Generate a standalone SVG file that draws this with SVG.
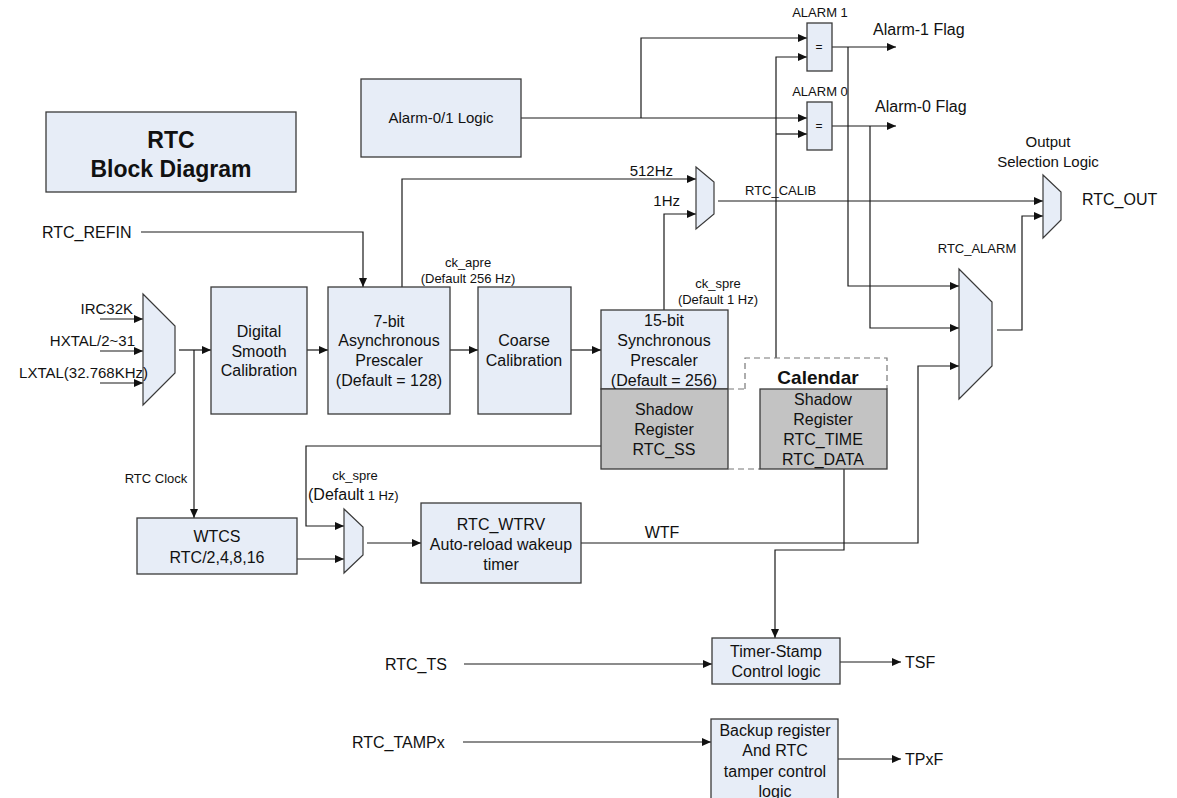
<svg xmlns="http://www.w3.org/2000/svg" width="1177" height="798" viewBox="0 0 1177 798">
<style>
text{font-family:"Liberation Sans",Arial,sans-serif;fill:#111;}
.box{fill:#e7edf7;stroke:#3a3a3a;stroke-width:1.3;}
.gray{fill:#c3c3c3;stroke:#3a3a3a;stroke-width:1.3;}
.mux{fill:#e7edf7;stroke:#3a3a3a;stroke-width:1.2;}
.w{fill:none;stroke:#1a1a1a;stroke-width:1.2;}
.wa{fill:none;stroke:#1a1a1a;stroke-width:1.2;marker-end:url(#ah);}
.dash{fill:none;stroke:#777;stroke-width:1.2;stroke-dasharray:6,4;}
.c{text-anchor:middle;}
.r{text-anchor:end;}
.f16{font-size:16px;}
.f15{font-size:15px;}
.f13{font-size:13px;}
</style>
<defs>
<marker id="ah" markerUnits="userSpaceOnUse" markerWidth="10" markerHeight="8" refX="9" refY="4" orient="auto">
<path d="M0,0 L9,4 L0,8 z" fill="#111"/>
</marker>
</defs>
<rect width="1177" height="798" fill="#fff"/>

<g id="connectors">
<path class="wa" d="M521,118 H807"/>
<path class="wa" d="M641,118 V38 H807"/>
<path class="wa" d="M776,358 V57 H807"/>
<path class="wa" d="M776,134 H807"/>
<path class="wa" d="M832,47 H896"/>
<path class="wa" d="M848,47 V286 H959"/>
<path class="wa" d="M832,126 H896"/>
<path class="wa" d="M870,126 V328 H959"/>
<path class="wa" d="M141,232 H363 V287"/>
<path class="wa" d="M100,319 H143"/>
<path class="wa" d="M100,351 H143"/>
<path class="wa" d="M100,383 H143"/>
<path class="wa" d="M179,350 H211"/>
<path class="wa" d="M194,350 V518"/>
<path class="wa" d="M307,350 H328"/>
<path class="wa" d="M450,350 H478"/>
<path class="wa" d="M571,350 H601"/>
<path class="wa" d="M402,287 V179 H696"/>
<path class="wa" d="M664,310 V214 H696"/>
<path class="wa" d="M718,201 H1043"/>
<path class="wa" d="M997,330 H1022 V216 H1043"/>
<path class="wa" d="M601,446 H306 V526 H344"/>
<path class="wa" d="M297,559 H344"/>
<path class="wa" d="M367,543 H421"/>
<path class="wa" d="M581,543 H918 V366 H959"/>
<path class="wa" d="M844,469 V550 H775 V638"/>
<path class="wa" d="M464,664 H712"/>
<path class="wa" d="M840,662 H901"/>
<path class="wa" d="M463,742 H711"/>
<path class="wa" d="M838,759 H901"/>
</g>

<g id="title">
<rect class="box" x="46" y="112" width="250" height="80"/>
<text class="c" x="171" y="148" font-size="23" font-weight="bold">RTC</text>
<text class="c" x="171" y="177" font-size="23" font-weight="bold">Block Diagram</text>
</g>

<g id="alarm-logic">
<rect class="box" x="361" y="79" width="160" height="78"/>
<text class="c f15" x="441" y="123">Alarm-0/1 Logic</text>
</g>

<g id="alarm1">
<rect class="box" x="807" y="23" width="25" height="48"/>
<text class="c" x="819" y="51" font-size="12">=</text>
<text class="c f13" x="820" y="17">ALARM 1</text>
<text class="f16" x="873" y="35">Alarm-1 Flag</text>
</g>

<g id="alarm0">
<rect class="box" x="807" y="102" width="25" height="48"/>
<text class="c" x="819" y="130" font-size="12">=</text>
<text class="c f13" x="820" y="96">ALARM 0</text>
<text class="f16" x="875" y="112">Alarm-0 Flag</text>
</g>

<g id="refin">
<text class="f16" x="42" y="238">RTC_REFIN</text>
</g>

<g id="input-mux">
<polygon class="mux" points="143,294 175,326 175,373 143,405"/>
<text class="r f15" x="133" y="314">IRC32K</text>
<text class="r f15" x="135" y="346">HXTAL/2~31</text>
<text class="r f15" x="148" y="378">LXTAL(32.768KHz)</text>
</g>

<g id="digital-smooth">
<rect class="box" x="211" y="287" width="96" height="127"/>
<text class="c f16" x="259" y="337">Digital</text>
<text class="c f16" x="259" y="357">Smooth</text>
<text class="c f16" x="259" y="376">Calibration</text>
</g>

<g id="async-prescaler">
<rect class="box" x="328" y="287" width="122" height="127"/>
<text class="c f16" x="389" y="327">7-bit</text>
<text class="c f16" x="389" y="346">Asynchronous</text>
<text class="c f16" x="389" y="366">Prescaler</text>
<text class="c f16" x="389" y="386">(Default = 128)</text>
<text class="c f13" x="468" y="267">ck_apre</text>
<text class="c f13" x="468" y="283">(Default 256 Hz)</text>
</g>

<g id="coarse">
<rect class="box" x="478" y="287" width="93" height="127"/>
<text class="c f16" x="524" y="346">Coarse</text>
<text class="c f16" x="524" y="366">Calibration</text>
</g>

<g id="sync-prescaler">
<rect class="box" x="601" y="310" width="127" height="79"/>
<rect class="gray" x="601" y="389" width="127" height="80"/>
<text class="c f16" x="664" y="326">15-bit</text>
<text class="c f16" x="664" y="346">Synchronous</text>
<text class="c f16" x="664" y="366">Prescaler</text>
<text class="c f16" x="664" y="386">(Default = 256)</text>
<text class="c f16" x="664" y="415">Shadow</text>
<text class="c f16" x="664" y="435">Register</text>
<text class="c f16" x="664" y="455">RTC_SS</text>
<text class="c f13" x="718" y="288">ck_spre</text>
<text class="c f13" x="718" y="304">(Default 1 Hz)</text>
</g>

<g id="calendar">
<path class="dash" d="M745,389 V358 H887 V389 M728,389 H745 M728,469 H760"/>
<rect class="gray" x="760" y="389" width="127" height="80"/>
<text class="c" x="818" y="384" font-size="19" font-weight="bold">Calendar</text>
<text class="c f16" x="823" y="405">Shadow</text>
<text class="c f16" x="823" y="425">Register</text>
<text class="c f16" x="823" y="445">RTC_TIME</text>
<text class="c f16" x="823" y="465">RTC_DATA</text>
</g>

<g id="calib-mux">
<polygon class="mux" points="696,167 714,182 714,214 696,229"/>
<text class="r f15" x="673" y="176">512Hz</text>
<text class="r f15" x="680" y="206">1Hz</text>
<text class="f13" x="745" y="195">RTC_CALIB</text>
</g>

<g id="output-mux">
<polygon class="mux" points="1043,175 1061,192 1061,220 1043,238"/>
<text class="c f15" x="1048" y="147">Output</text>
<text class="c f15" x="1048" y="167">Selection Logic</text>
<text class="f16" x="1082" y="205">RTC_OUT</text>
</g>

<g id="alarm-mux">
<polygon class="mux" points="959,269 992,302 992,366 959,399"/>
<text class="c f13" x="977" y="253">RTC_ALARM</text>
</g>

<g id="wtcs">
<rect class="box" x="137" y="518" width="160" height="56"/>
<text class="c f16" x="217" y="542">WTCS</text>
<text class="c f16" x="217" y="563">RTC/2,4,8,16</text>
<text class="c f13" x="156" y="483">RTC Clock</text>
</g>

<g id="wakeup-mux">
<polygon class="mux" points="344,509 363,527 363,555 344,573"/>
<text class="c f13" x="355" y="480">ck_spre</text>
<text x="308" y="500" font-size="16">(Default<tspan font-size="13"> 1 Hz)</tspan></text>
</g>

<g id="wtrv">
<rect class="box" x="421" y="503" width="160" height="80"/>
<text class="c f16" x="501" y="530">RTC_WTRV</text>
<text class="c f16" x="501" y="550">Auto-reload wakeup</text>
<text class="c f16" x="501" y="570">timer</text>
<text class="c f16" x="662" y="538">WTF</text>
</g>

<g id="timestamp">
<rect class="box" x="712" y="638" width="128" height="46"/>
<text class="c f16" x="776" y="657">Timer-Stamp</text>
<text class="c f16" x="776" y="677">Control logic</text>
<text class="f16" x="385" y="670">RTC_TS</text>
<text class="f16" x="905" y="668">TSF</text>
</g>

<g id="backup">
<rect class="box" x="711" y="719" width="127" height="85"/>
<text class="c f16" x="775" y="736">Backup register</text>
<text class="c f16" x="775" y="756">And RTC</text>
<text class="c f16" x="775" y="777">tamper control</text>
<text class="c f16" x="775" y="797">logic</text>
<text class="f16" x="352" y="748">RTC_TAMPx</text>
<text class="f16" x="905" y="765">TPxF</text>
</g>
</svg>
